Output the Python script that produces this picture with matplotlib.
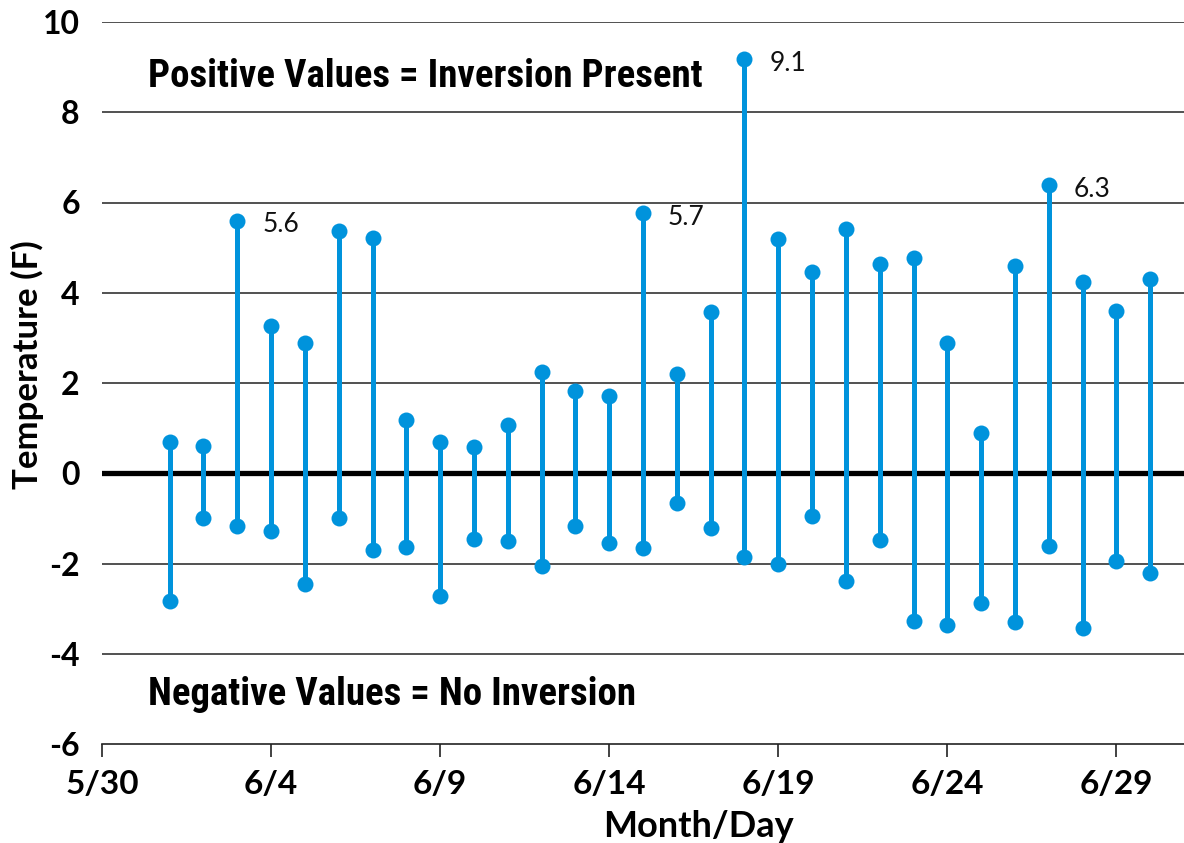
import matplotlib
matplotlib.use("Agg")
import matplotlib.pyplot as plt
from matplotlib import font_manager

days = list(range(2, 32))  # day offsets from 5/30 -> 6/1 .. 6/30
highs = [0.69, 0.60, 5.60, 3.26, 2.88, 5.37, 5.21, 1.18, 0.69, 0.58,
         1.06, 2.24, 1.82, 1.71, 5.76, 2.20, 3.57, 9.18, 5.19, 4.46,
         5.41, 4.63, 4.77, 2.88, 0.89, 4.59, 6.39, 4.23, 3.59, 4.30]
lows = [-2.84, -1.00, -1.17, -1.29, -2.46, -1.00, -1.69, -1.64, -2.73, -1.46,
        -1.51, -2.06, -1.17, -1.55, -1.66, -0.67, -1.22, -1.86, -2.00, -0.95,
        -2.39, -1.49, -3.28, -3.37, -2.88, -3.30, -1.62, -3.44, -1.95, -2.22]
tick_pos = [0, 5, 10, 15, 20, 25, 30]
tick_labels = ["5/30", "6/4", "6/9", "6/14", "6/19", "6/24", "6/29"]
y_ticks = [-6, -4, -2, 0, 2, 4, 6, 8, 10]
annot_idx = [2, 14, 17, 26]
annot_text = ["5.6", "5.7", "9.1", "6.3"]

names = {f.name for f in font_manager.fontManager.ttflist}
narrow = "Roboto Condensed" if "Roboto Condensed" in names else "Liberation Sans Narrow" if "Liberation Sans Narrow" in names else "Liberation Sans"
main_font = "Lato"

blue = "#0093dc"
fig = plt.figure(figsize=(11.84, 8.43), dpi=100)
ax = fig.add_axes([102/1184, 1 - 744/843, 1 - 102/1184, (744 - 22)/843])

for y in y_ticks:
    if y in (-6, 0):
        continue
    ax.axhline(y, color="#222222", lw=1.1, zorder=1)
ax.axhline(0, color="black", lw=3.8, zorder=2)

for d, h, l in zip(days, highs, lows):
    ax.plot([d, d], [l, h], color=blue, lw=3.6, solid_capstyle="butt", zorder=3)
    ax.plot([d, d], [l, h], "o", color=blue, ms=11.5, mec="none", zorder=4)

for i, t in zip(annot_idx, annot_text):
    ax.annotate(t, (days[i], highs[i]), xytext=(18, -3), textcoords="offset points",
                ha="left", va="center", fontsize=19, family=main_font, color="#111111")

ax.text(1.35, 8.8, "Positive Values = Inversion Present", fontsize=28, fontweight="bold",
        family=narrow, ha="left", va="center")
ax.text(1.35, -4.9, "Negative Values = No Inversion", fontsize=28, fontweight="bold",
        family=narrow, ha="left", va="center")

ax.set_xlim(0, 32)
ax.set_ylim(-6, 10)
ax.set_xticks(tick_pos)
ax.set_xticklabels(tick_labels, fontsize=24, fontweight="bold", family=main_font)
ax.set_yticks(y_ticks)
ax.set_yticklabels([str(v) for v in y_ticks], fontsize=23, fontweight="bold", family=main_font)
ax.tick_params(axis="y", length=0, pad=16)
ax.tick_params(axis="x", length=9, width=1.2, direction="out", pad=10, color="#222222")
for s in ["top", "right", "left"]:
    ax.spines[s].set_visible(False)
ax.spines["bottom"].set_color("#222222")
ax.spines["bottom"].set_linewidth(1.2)

ax.set_xlabel("Month/Day", fontsize=26, fontweight="bold", family=main_font, va="center")
ax.xaxis.set_label_coords(0.551, -0.114)
ax.set_ylabel("Temperature (F)", fontsize=25, fontweight="bold", family=main_font, va="center")
ax.yaxis.set_label_coords(-0.069, 0.525)

fig.savefig("out.png", dpi=100)
